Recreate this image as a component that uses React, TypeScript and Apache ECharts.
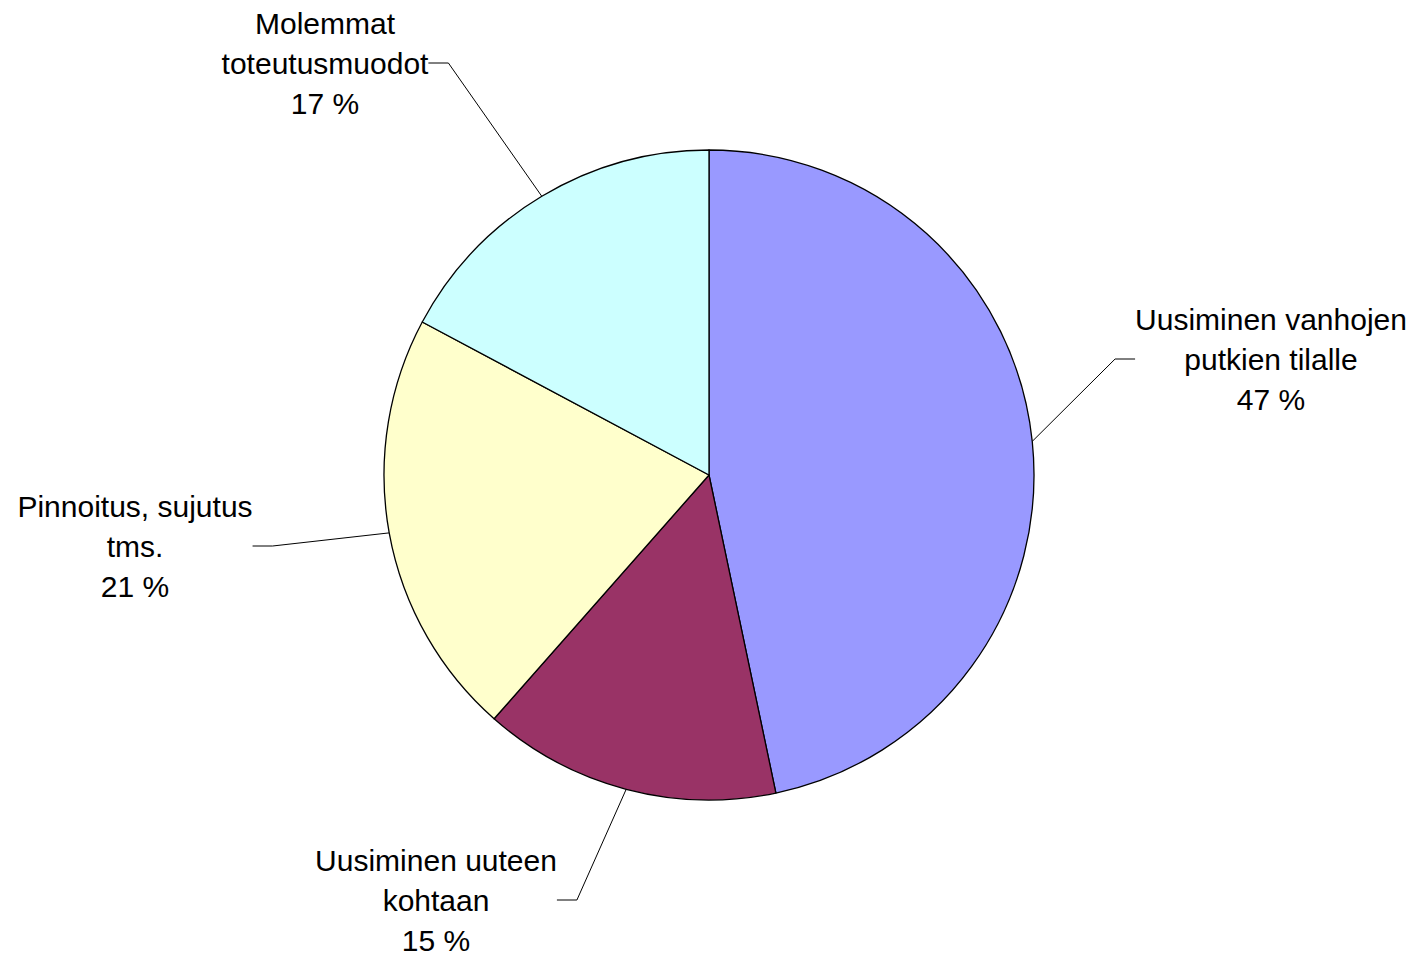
import React, { useEffect, useRef } from "react";
import * as echarts from "echarts";

const categories = [
  "Uusiminen vanhojen\nputkien tilalle",
  "Uusiminen uuteen\nkohtaan",
  "Pinnoitus, sujutus\ntms.",
  "Molemmat\ntoteutusmuodot",
];
const values = [46.7, 14.8, 21.3, 17.2];
const colors = ["#9999FF", "#993366", "#FFFFCC", "#CCFFFF"];
// label centre positions (x, y of middle line)
const labelPos: [number, number][] = [
  [1271, 359],
  [436, 900],
  [135, 546],
  [325, 63],
];

export default function App() {
  const ref = useRef<HTMLDivElement>(null);
  useEffect(() => {
    if (!ref.current) return;
    const chart = echarts.init(ref.current, undefined, { renderer: "svg" });
    chart.setOption({
      animation: false,
      backgroundColor: "#ffffff",
      series: [
        {
          type: "pie",
          center: [709, 475],
          radius: [0, 325],
          startAngle: 90,
          clockwise: true,
          data: categories.map((c, i) => ({
            name: c,
            value: values[i],
            itemStyle: { color: colors[i] },
          })),
          itemStyle: { borderColor: "#000000", borderWidth: 1.3 },
          emphasis: { disabled: true },
          label: {
            show: true,
            position: "outside",
            formatter: (p: any) => `${p.name}\n${Math.round(p.percent)} %`,
            fontFamily: "Liberation Sans, Arial, sans-serif",
            fontSize: 30,
            lineHeight: 40,
            color: "#000000",
            align: "center",
          },
          labelLine: {
            show: true,
            length: 20,
            length2: 20,
            lineStyle: { color: "#000000", width: 1 },
          },
          labelLayout: (params: any) => {
            const [x, y] = labelPos[params.dataIndex];
            return { x, y, align: "center", verticalAlign: "middle" };
          },
        },
      ],
    });
    return () => chart.dispose();
  }, []);
  return (
    <div
      ref={ref}
      style={{ position: "absolute", left: 0, top: 0, width: 1421, height: 956 }}
    />
  );
}
